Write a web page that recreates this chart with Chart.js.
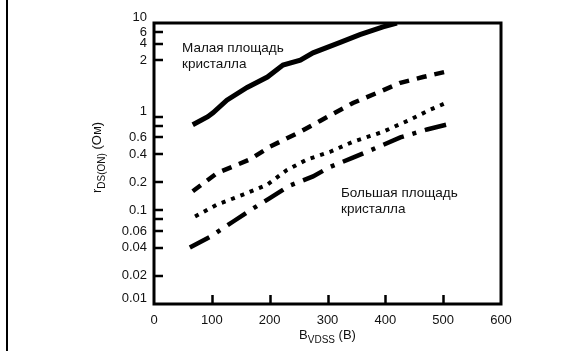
<html>
<head>
<meta http-equiv="content-type" content="text/html; charset=UTF-8" />
<script src="https://cdn.jsdelivr.net/npm/chart.js@4.4.0/dist/chart.umd.min.js"></script>
<style>
  body { margin: 0; background: #fff; }
  #wrap { position: relative; width: 588px; height: 351px; border-left: 2px solid #000; margin-left: 6px; width: 580px; }
</style>
</head>
<body>
<div id="wrap">
	<canvas id="rdsChart" width="580" height="351"></canvas>
</div>
<script>
// values (x = B_VDSS in V, y = r_DS(ON) in Ohm)
var smallDieX = [67, 93, 102, 126, 161, 196, 223, 253, 275, 322, 356, 396, 420];
var smallDieY = [0.82, 1.0, 1.1, 1.5, 2.05, 2.65, 3.55, 4.0, 4.8, 6.2, 7.5, 9.1, 10];

var dashedX = [67, 109, 166, 201, 253, 287, 344, 386, 426, 465, 503];
var dashedY = [0.16, 0.25, 0.35, 0.48, 0.69, 0.9, 1.4, 1.8, 2.3, 2.65, 3.0];

var dottedX = [71, 109, 154, 196, 230, 265, 304, 344, 396, 443, 478, 505];
var dottedY = [0.086, 0.115, 0.147, 0.188, 0.27, 0.35, 0.42, 0.54, 0.69, 0.93, 1.19, 1.4];

var largeDieX = [62, 97, 137, 166, 201, 235, 275, 304, 344, 386, 426, 472, 505];
var largeDieY = [0.04, 0.052, 0.076, 0.1, 0.136, 0.184, 0.23, 0.29, 0.365, 0.47, 0.6, 0.73, 0.82];

// y ticks as printed on the original (top decade labels are offset there)
var yTickValues = [0.01, 0.02, 0.04, 0.06, 0.08, 0.1, 0.2, 0.4, 0.6, 0.8, 1, 4, 6, 8, 10];
var yTickLabels = ['0.01', '0.02', '0.04', '0.06', '', '0.1', '0.2', '0.4', '0.6', '', '1', '2', '4', '6', '10'];
var raisedLabels = ['10', '1', '0.01'];

var xTickStep = 100;
var xMin = 0, xMax = 600;

var fontName = '"Liberation Sans", Arial, Helvetica, sans-serif';
var ink = '#111';

function toPoints(xs, ys) {
	var pts = [];
	for (var i = 0; i < xs.length; i++) pts.push({x: xs[i], y: ys[i]});
	return pts;
}

function drawSub(ctx, parts, x, y) {
	// parts: [text, size, baselineShift]
	var pos = x;
	for (var i = 0; i < parts.length; i++) {
		ctx.font = parts[i][1] + 'px ' + fontName;
		ctx.fillText(parts[i][0], pos, y + parts[i][2]);
		pos += ctx.measureText(parts[i][0]).width;
	}
	return pos - x;
}

var decor = {
	id: 'decor',
	afterDatasetsDraw: function(chart) {
		var ctx = chart.ctx, a = chart.chartArea;
		var xs = chart.scales.x, ys = chart.scales.y;
		ctx.save();
		ctx.strokeStyle = '#000';
		ctx.lineWidth = 2.5;
		// inward tick marks
		ctx.beginPath();
		for (var v = xMin + xTickStep; v < xMax; v += xTickStep) {
			var px = Math.round(xs.getPixelForValue(v)) + 0.5;
			ctx.moveTo(px, a.bottom);
			ctx.lineTo(px, a.bottom - 9);
		}
		for (var i = 1; i < yTickValues.length - 1; i++) {
			var py = Math.round(ys.getPixelForValue(yTickValues[i]));
			ctx.moveTo(a.left, py);
			ctx.lineTo(a.left + 9, py);
		}
		ctx.stroke();
		// frame
		ctx.lineWidth = 3;
		ctx.strokeRect(a.left, a.top, a.right - a.left, a.bottom - a.top);

		ctx.fillStyle = ink;
		ctx.textBaseline = 'alphabetic';
		ctx.textAlign = 'left';
		// curve notes
		ctx.font = '13.5px ' + fontName;
		ctx.fillText('Малая площадь', a.left + 28, a.top + 29);
		ctx.fillText('кристалла', a.left + 28, a.top + 45);
		ctx.fillText('Большая площадь', a.left + 187, a.top + 174);
		ctx.fillText('кристалла', a.left + 187, a.top + 190);

		// x title
		var xParts = [['B', 13, 0], ['VDSS', 10, 3.5], [' (B)', 13, 0]];
		var w = 0;
		for (var k = 0; k < xParts.length; k++) {
			ctx.font = xParts[k][1] + 'px ' + fontName;
			w += ctx.measureText(xParts[k][0]).width;
		}
		drawSub(ctx, xParts, (a.left + a.right) / 2 - w / 2, 339);

		// y title, rotated
		ctx.translate(93, 193);
		ctx.rotate(-Math.PI / 2);
		drawSub(ctx, [['r', 13, 0], ['DS(ON)', 10, 3.5], [' (Ом)', 13, 0]], 0, 0);
		ctx.restore();
	}
};

var ctx = document.getElementById('rdsChart');
new Chart(ctx, {
	type: 'line',
	data: {
		datasets: [{
			label: 'Малая площадь кристалла',
			data: toPoints(smallDieX, smallDieY),
			borderColor: '#000',
			borderWidth: 5,
			borderCapStyle: 'butt'
		}, {
			label: 'dashed',
			data: toPoints(dashedX, dashedY),
			borderColor: '#000',
			borderWidth: 4.5,
			borderDash: [10, 8],
			borderCapStyle: 'butt'
		}, {
			label: 'dotted',
			data: toPoints(dottedX, dottedY),
			borderColor: '#000',
			borderWidth: 4,
			borderDash: [4, 6],
			borderCapStyle: 'butt'
		}, {
			label: 'Большая площадь кристалла',
			data: toPoints(largeDieX, largeDieY),
			borderColor: '#000',
			borderWidth: 4.5,
			borderDash: [22, 9, 4, 9],
			borderCapStyle: 'butt'
		}]
	},
	options: {
		responsive: false,
		animation: false,
		devicePixelRatio: 1,
		layout: { padding: { left: 0, top: 23, right: 87, bottom: 0 } },
		elements: { point: { radius: 0 }, line: { tension: 0, fill: false } },
		plugins: { legend: { display: false }, tooltip: { enabled: false } },
		scales: {
			x: {
				type: 'linear',
				min: xMin,
				max: xMax,
				grid: { display: false, drawTicks: false },
				border: { display: false },
				ticks: {
					stepSize: xTickStep,
					padding: 9,
					color: ink,
					font: { family: fontName, size: 13 }
				},
				afterFit: function(scale) { scale.height = 47; }
			},
			y: {
				type: 'logarithmic',
				min: 0.01,
				max: 10,
				grid: { display: false, drawTicks: false },
				border: { display: false },
				afterBuildTicks: function(scale) {
					scale.ticks = yTickValues.map(function(v) { return {value: v}; });
				},
				ticks: {
					autoSkip: false,
					padding: 7,
					color: ink,
					font: { family: fontName, size: 13, lineHeight: 0.8 },
					callback: function(value, index) {
						var lab = yTickLabels[index];
						if (raisedLabels.indexOf(lab) >= 0) return [lab, ''];
						return lab;
					}
				},
				afterFit: function(scale) { scale.width = 146; }
			}
		}
	},
	plugins: [decor]
});
</script>
</body>
</html>
